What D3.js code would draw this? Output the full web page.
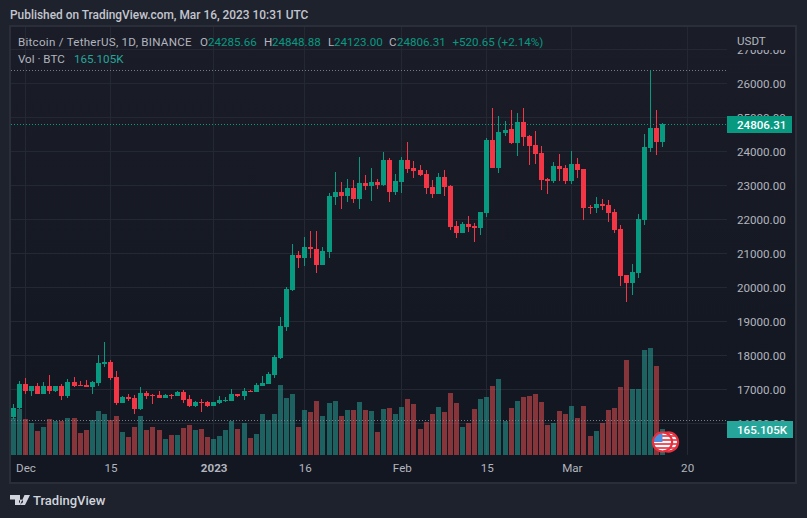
<!DOCTYPE html>
<html>
<head>
<meta charset="utf-8">
<style>
  html, body { margin: 0; padding: 0; background: #1e222d; }
  svg { display: block; }
  text { font-family: Roboto, "Liberation Sans", Arial, sans-serif; }
</style>
<script src="https://cdn.jsdelivr.net/npm/d3@7"></script>
</head>
<body>
<svg id="chart" width="807" height="518"></svg>
<script>
// BTC/USDT daily candles, first session 2022-11-29
const firstSession = "2022-11-29";
const opens = [16187,16442,17157,16960,17098,16873,17098,16950,17098,16805,17216,17128,17128,17069,17187,17745,17804,17363,16598,16775,16745,16422,16893,16834,16834,16745,16834,16805,16922,16716,16510,16637,16628,16510,16598,16677,16657,16863,16805,16961,16922,17098,17157,17423,17923,18834,19922,20951,20863,21186,21127,20657,21039,22656,22803,22686,22921,22597,23068,22980,23097,23009,23744,22803,23097,23744,23509,23450,23332,22950,22744,23244,22980,21804,21598,21863,21804,21745,22186,24332,23509,24538,24656,24244,24862,24450,24185,23950,23186,23127,23568,23509,23127,23627,23480,22363,22333,22451,22421,22216,21715,20363,20127,20421,21980,24096,24684,24285.66];
const closes = [16450,17157,16960,17098,16873,17098,16950,17098,16805,17216,17098,17098,17069,17216,17775,17804,17334,16598,16775,16716,16422,16893,16805,16815,16745,16834,16805,16922,16687,16510,16628,16618,16510,16628,16687,16697,16863,16805,16951,16931,17128,17187,17451,17952,18864,19951,20951,20873,21186,21127,20657,21069,22686,22803,22686,22921,22597,23068,22980,23097,23009,23744,22803,23127,23744,23479,23421,23303,22921,22744,23244,22950,21774,21598,21863,21775,21745,22216,24332,23509,24568,24626,24244,24862,24421,24156,23921,23156,23127,23568,23480,23127,23627,23450,22333,22343,22451,22392,22186,21686,20333,20127,20451,22009,24126,24684,24273,24806.31];
const highs = [16570,17245,17334,17098,17187,17216,17420,17098,17157,17304,17363,17245,17275,17245,18010,18392,17863,17540,16804,16863,16834,17069,16950,16863,16950,16863,16863,16951,16981,16834,16657,16716,16657,16628,16804,16775,17010,16863,17040,16990,17187,17392,17510,18011,19128,20010,21274,21069,21480,21657,21657,21186,22774,23391,23097,23185,23156,23832,23303,23509,23185,23979,23803,23332,23832,24273,23715,23597,23450,23156,23362,23450,23009,21951,21922,22098,21892,22216,24391,25273,25038,24891,25214,25126,25273,24479,24597,24156,23215,23686,23921,23597,24009,23803,23480,22421,22657,22598,22568,22304,21833,20363,20686,22156,24508,26386,25214,24848.88];
const lows = [16120,16428,16873,16805,16873,16873,16873,16920,16687,16745,17069,17098,17069,16863,17098,17657,17275,16540,16598,16657,16275,16393,16716,16569,16745,16745,16716,16805,16598,16481,16481,16334,16481,16510,16569,16628,16657,16775,16687,16931,16922,17098,17157,17335,17893,18717,19893,20569,20628,20863,20422,20657,20863,22421,22303,22509,22480,22303,22862,22539,22891,22980,22509,22715,22774,23362,23215,23274,22744,22627,22744,22686,21686,21451,21598,21628,21350,21539,22069,23509,23362,24450,24215,23862,24156,23597,23627,22862,22745,23068,23127,23039,23039,23215,21980,22157,22186,22274,21922,21598,20039,19569,19765,20274,21833,23979,23890,24123];

// Traded volume per session, thousands of BTC
const volumes = [243,297,232,206,154,180,232,219,219,238,238,141,160,225,284,264,225,251,147,115,180,251,160,180,160,102,128,128,173,193,160,167,115,102,121,160,219,167,206,108,134,264,225,267,455,371,397,182,293,280,351,254,338,351,254,293,293,345,293,286,150,299,306,267,312,364,332,169,215,267,312,280,403,338,182,208,299,364,377,449,494,221,306,351,377,384,397,345,195,208,286,267,319,241,319,124,156,208,293,306,442,618,429,429,683,696,579,165.105];

// Axis contents
const priceTicks = [27000,26000,25000,24000,23000,22000,21000,20000,19000,18000,17000,16000];
const timeTicks = ["2022-12-01","2022-12-15","2023-01-01","2023-01-16","2023-02-01","2023-02-15","2023-03-01","2023-03-20"];
const timeLabels = ["Dec","15","2023","16","Feb","15","Mar","20"];
const extremeLevels = [26386,16088];
const eventDays = ["2023-03-17","2023-03-16"];

const lastPrice = closes[closes.length - 1];
const lastVolume = volumes[volumes.length - 1];
const candles = opens.map((o, i) => ({
  date: d3.utcDay.offset(new Date(firstSession + "T00:00:00Z"), i),
  open: o, close: closes[i], high: highs[i], low: lows[i], vol: volumes[i]
}));

const UP = "#089981", DOWN = "#f23645", FRAME = "#2a2e39",
      GRID = "#242833", TEXT = "#b2b5be", TEAL = "#26a69a", VOL_DOWN = "#ef5350";
const PANE_TOP = "#1a1d28", PANE_BOTTOM = "#131722";
const FS = 11.6;

const pane = { left: 11, right: 727, top: 27, bottom: 455 };
const svg = d3.select("#chart");

const dayPx = 6.07;
const origin = new Date("2022-12-01T00:00:00Z");
const x = d3.scaleUtc()
  .domain([origin, d3.utcDay.offset(origin, 100)])
  .range([25.5, 25.5 + dayPx * 100]);
const y = d3.scaleLinear().domain([20000, 26000]).range([287.5, 83.5]);
const yVol = d3.scaleLinear().domain([0, 1000]).range([454.9, 454.9 - 153.85]);
const px = d => Math.floor(x(d));

const defs = svg.append("defs");
const fade = defs.append("linearGradient").attr("id", "paneFade")
  .attr("x1", 0).attr("x2", 0).attr("y1", 0).attr("y2", 1);
fade.append("stop").attr("offset", 0).attr("stop-color", PANE_TOP);
fade.append("stop").attr("offset", 0.8).attr("stop-color", PANE_BOTTOM);

// Frame and pane background
svg.append("rect").attr("width", 807).attr("height", 518).attr("fill", "#1e222d");
svg.append("rect").attr("x", 9).attr("y", 25).attr("width", 788).attr("height", 459).attr("fill", FRAME);
svg.append("rect").attr("x", 11).attr("y", 27).attr("width", 784).attr("height", 455).attr("fill", "url(#paneFade)");

// Grid
const grid = svg.append("g").attr("shape-rendering", "crispEdges").attr("fill", GRID);
grid.selectAll(".h").data(priceTicks).join("rect")
  .attr("x", pane.left).attr("width", pane.right - pane.left)
  .attr("y", d => Math.floor(y(d))).attr("height", 1);
grid.selectAll(".v").data(timeTicks).join("rect")
  .attr("x", d => px(new Date(d + "T00:00:00Z"))).attr("width", 1)
  .attr("y", pane.top).attr("height", pane.bottom - pane.top);

// Volume bars
svg.append("g").attr("shape-rendering", "crispEdges")
  .selectAll("rect").data(candles).join("rect")
  .attr("x", d => px(d.date) - 2).attr("width", 5)
  .attr("y", d => Math.round(yVol(d.vol)))
  .attr("height", d => 455 - Math.round(yVol(d.vol)))
  .attr("fill", d => d.close >= d.open ? TEAL : VOL_DOWN)
  .attr("fill-opacity", 0.52);

// Extreme level dotted guides
svg.append("g").selectAll("line").data(extremeLevels).join("line")
  .attr("x1", pane.left).attr("x2", pane.right)
  .attr("y1", d => Math.floor(y(d)) + 0.5).attr("y2", d => Math.floor(y(d)) + 0.5)
  .attr("stroke", "#787b86").attr("stroke-dasharray", "1 2");

// Last-price guide
svg.append("line")
  .attr("x1", pane.left).attr("x2", pane.right)
  .attr("y1", Math.floor(y(lastPrice)) + 0.5).attr("y2", Math.floor(y(lastPrice)) + 0.5)
  .attr("stroke", UP).attr("stroke-dasharray", "1 2");

// Candles
const cg = svg.append("g").attr("shape-rendering", "crispEdges")
  .selectAll("g").data(candles).join("g")
  .attr("fill", d => d.close >= d.open ? UP : DOWN);
cg.append("rect")
  .attr("x", d => px(d.date)).attr("width", 1)
  .attr("y", d => Math.round(y(d.high)))
  .attr("height", d => Math.max(1, Math.round(y(d.low)) - Math.round(y(d.high))));
cg.append("rect")
  .attr("x", d => px(d.date) - 2).attr("width", 5)
  .attr("y", d => Math.round(y(Math.max(d.open, d.close))))
  .attr("height", d => Math.max(1, Math.round(y(Math.min(d.open, d.close))) - Math.round(y(Math.max(d.open, d.close)))));

// Price axis: every level is labelled, the header and badges sit on top of three of them
const yAxis = svg.append("g").attr("transform", "translate(727,0)")
  .call(d3.axisRight(y).tickValues(priceTicks).tickSize(0).tickPadding(10)
    .tickFormat(d3.format(".2f")));
yAxis.select(".domain").remove();
yAxis.selectAll("text").attr("fill", TEXT).attr("font-size", FS).style("font-family", "Roboto, sans-serif");

// Currency header covers the top of the price scale
svg.append("rect").attr("x", 727).attr("y", 27).attr("width", 68).attr("height", 23).attr("fill", PANE_TOP);

// Time axis
const xAxis = svg.append("g").attr("transform", "translate(0,455)")
  .call(d3.axisBottom(x).tickValues(timeTicks.map(d => new Date(d + "T00:00:00Z"))).tickSize(0).tickPadding(9)
    .tickFormat((d, i) => timeLabels[i]));
xAxis.select(".domain").remove();
xAxis.selectAll("text").attr("fill", TEXT).attr("font-size", FS).style("font-family", "Roboto, sans-serif");
xAxis.selectAll("text").filter((d, i) => timeLabels[i] === "2023").attr("font-weight", 700);

// Value badges on the price axis
function badge(yPos, h, w, fill, label) {
  svg.append("rect").attr("x", 727).attr("y", yPos).attr("width", w).attr("height", h).attr("fill", fill);
  svg.append("text").attr("x", 737).attr("y", yPos + h / 2 + 4.2).attr("fill", "#fff")
    .attr("font-size", FS).attr("font-weight", 500).text(label);
}
badge(116, 17, 65, UP, d3.format(".2f")(lastPrice));
badge(421, 17, 66, TEAL, d3.format(".3f")(lastVolume) + "K");

// Economic event markers
const flagGroup = svg.append("g");
eventDays.forEach((day, n) => {
  const cx = px(new Date(day + "T00:00:00Z")) + 0.5;
  const cy = 442;
  const id = "flag" + n;
  defs.append("clipPath").attr("id", id).append("circle").attr("cx", cx).attr("cy", cy).attr("r", 9);
  const g = flagGroup.append("g");
  g.append("circle").attr("cx", cx).attr("cy", cy).attr("r", 9).attr("fill", "#fff");
  const cl = g.append("g").attr("clip-path", `url(#${id})`);
  d3.range(0, 4).forEach(k => cl.append("rect").attr("x", cx - 10).attr("width", 20)
    .attr("y", cy - 7 + k * 4).attr("height", 2).attr("fill", "#f0545f"));
  cl.append("rect").attr("x", cx - 10).attr("y", cy - 10).attr("width", 10).attr("height", 10).attr("fill", "#4a90e2");
  g.append("circle").attr("cx", cx).attr("cy", cy).attr("r", 9.6).attr("fill", "none")
    .attr("stroke", "#e5303f").attr("stroke-width", 2.2);
});

// Legend
function legend(xPos, yPos, fill, label) {
  return svg.append("text").attr("x", xPos).attr("y", yPos).attr("fill", fill).attr("font-size", FS).text(label);
}
legend(18, 45.5, TEXT, "Bitcoin / TetherUS, 1D, BINANCE").attr("letter-spacing", 0.26);
legend(200, 45.5, TEXT, "O");
legend(208, 45.5, UP, d3.format(".2f")(opens[opens.length - 1]));
legend(264, 45.5, TEXT, "H");
legend(272, 45.5, UP, d3.format(".2f")(highs[highs.length - 1]));
legend(328, 45.5, TEXT, "L");
legend(334, 45.5, UP, d3.format(".2f")(lows[lows.length - 1]));
legend(389, 45.5, TEXT, "C");
legend(397, 45.5, UP, d3.format(".2f")(lastPrice));
legend(452.5, 45.5, UP, "+520.65 (+2.14%)");
legend(18, 63, TEXT, "Vol · BTC");
legend(74, 63, TEAL, d3.format(".3f")(lastVolume) + "K");
legend(737, 44.7, TEXT, "USDT");

// Header and footer
svg.append("text").attr("x", 10).attr("y", 19).attr("fill", "#c3c6ce").attr("font-size", 11.9)
  .attr("font-weight", 500).text("Published on TradingView.com, Mar 16, 2023 10:31 UTC");
svg.append("path").attr("fill", "#d1d4dc")
  .attr("d", "M10 495H20V505H15V499.5H10Z M21 499.5a2 2 0 1 0 .01 0Z M24.5 495H30L25 505H20Z");
svg.append("text").attr("x", 33).attr("y", 505).attr("fill", "#d1d4dc").attr("font-size", 13)
  .attr("font-weight", 500).text("TradingView");
</script>
</body>
</html>
